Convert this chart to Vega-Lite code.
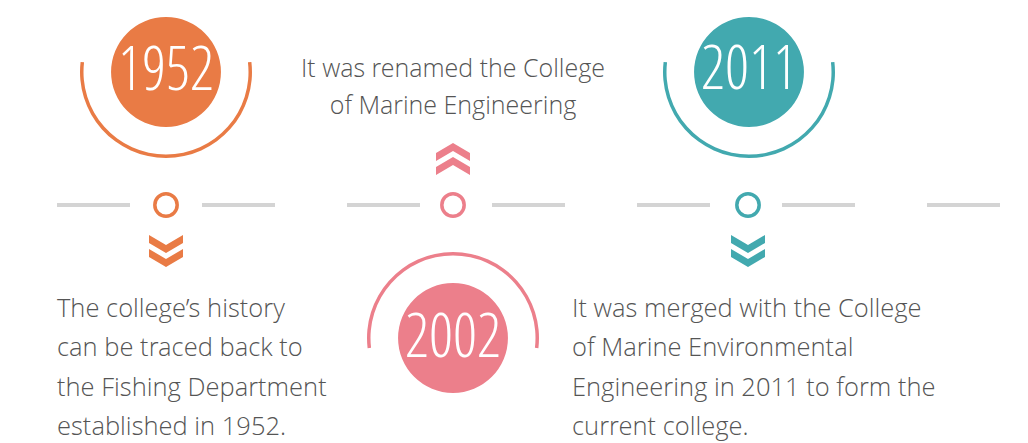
{
  "$schema": "https://vega.github.io/schema/vega-lite/v6.json",
  "width": 1028,
  "height": 443,
  "autosize": {"type": "none"},
  "padding": 0,
  "background": "white",
  "config": {"view": {"stroke": null}},
  "datasets": {
    "segments": [
      {"x": 57, "x2": 130, "y": 205}, {"x": 202, "x2": 275, "y": 205},
      {"x": 347, "x2": 420, "y": 205}, {"x": 492, "x2": 565, "y": 205},
      {"x": 637, "x2": 710, "y": 205}, {"x": 782, "x2": 855, "y": 205},
      {"x": 927, "x2": 1000, "y": 205}
    ],
    "events": [
      {"year": "1952", "x": 166, "cy": 72, "ty": 90, "ry": 205, "cx": 166, "chy": 251, "dir": "down"},
      {"year": "2002", "x": 453, "cy": 338, "ty": 357, "ry": 205, "cx": 453, "chy": 159, "dir": "up"},
      {"year": "2011", "x": 749, "cy": 72, "ty": 89, "ry": 205, "cx": 748, "chy": 251, "dir": "down"}
    ],
    "lines": [
      {"t": "It was renamed the College", "x": 453, "y": 77, "a": "center"},
      {"t": "of Marine Engineering", "x": 453, "y": 114, "a": "center"},
      {"t": "The college’s history", "x": 57, "y": 317, "a": "left"},
      {"t": "can be traced back to", "x": 57, "y": 356, "a": "left"},
      {"t": "the Fishing Department", "x": 57, "y": 396, "a": "left"},
      {"t": "established in 1952.", "x": 57, "y": 435, "a": "left"},
      {"t": "It was merged with the College", "x": 572, "y": 317, "a": "left"},
      {"t": "of Marine Environmental", "x": 572, "y": 356, "a": "left"},
      {"t": "Engineering in 2011 to form the", "x": 572, "y": 396, "a": "left"},
      {"t": "current college.", "x": 572, "y": 435, "a": "left"}
    ]
  },
  "encoding": {
    "x": {"field": "x", "type": "quantitative", "scale": {"domain": [0, 1028], "nice": false, "zero": false}, "axis": null},
    "y": {"field": "y", "type": "quantitative", "scale": {"domain": [0, 443], "nice": false, "zero": false, "reverse": true}, "axis": null}
  },
  "layer": [
    {
      "data": {"name": "segments"},
      "mark": {"type": "rule", "color": "#d4d4d4", "strokeWidth": 4},
      "encoding": {
        "x2": {"field": "x2"}
      }
    },
    {
      "data": {"name": "events"},
      "layer": [
        {
          "transform": [{"filter": "datum.dir == 'down'"}],
          "mark": {"type": "arc", "theta": 1.453, "theta2": 4.83, "radius": 86, "radius2": 82.5},
          "encoding": {
            "y": {"field": "cy", "type": "quantitative"},
            "color": {"field": "year", "type": "nominal", "scale": {"domain": ["1952", "2002", "2011"], "range": ["#E97B45", "#EC7F8B", "#42A9AF"]}, "legend": null}
          }
        },
        {
          "transform": [{"filter": "datum.dir == 'up'"}],
          "mark": {"type": "arc", "theta": -1.689, "theta2": 1.689, "radius": 86, "radius2": 82.5},
          "encoding": {
            "y": {"field": "cy", "type": "quantitative"},
            "color": {"field": "year", "type": "nominal", "legend": null}
          }
        },
        {
          "mark": {"type": "point", "shape": "circle", "filled": true, "opacity": 1, "size": 12076},
          "encoding": {
            "y": {"field": "cy", "type": "quantitative"},
            "color": {"field": "year", "type": "nominal", "legend": null}
          }
        },
        {
          "mark": {"type": "text", "font": "'Open Sans Condensed Light', 'Open Sans Condensed', 'Liberation Sans Narrow', sans-serif", "fontWeight": 300, "fontSize": 60, "color": "white", "align": "center", "baseline": "alphabetic"},
          "encoding": {
            "y": {"field": "ty", "type": "quantitative"},
            "text": {"field": "year"}
          }
        },
        {
          "mark": {"type": "point", "shape": "circle", "filled": false, "opacity": 1, "strokeWidth": 3.5, "size": 500},
          "encoding": {
            "x": {"field": "cx", "type": "quantitative"},
            "y": {"field": "ry", "type": "quantitative"},
            "color": {"field": "year", "type": "nominal", "legend": null}
          }
        },
        {
          "mark": {"type": "point", "filled": true, "opacity": 1, "strokeWidth": 0, "size": 1156},
          "encoding": {
            "x": {"field": "cx", "type": "quantitative"},
            "y": {"field": "chy", "type": "quantitative"},
            "shape": {"field": "dir", "type": "nominal", "legend": null, "scale": {"domain": ["down", "up"], "range": [
              "M-1,-0.94L0,-0.35L1,-0.94L1,-0.47L0,0.12L-1,-0.47Z M-1,-0.12L0,0.47L1,-0.12L1,0.35L0,0.94L-1,0.35Z",
              "M-1,0.94L0,0.35L1,0.94L1,0.47L0,-0.12L-1,0.47Z M-1,0.12L0,-0.47L1,0.12L1,-0.35L0,-0.94L-1,-0.35Z"
            ]}},
            "color": {"field": "year", "type": "nominal", "legend": null}
          }
        }
      ]
    },
    {
      "data": {"name": "lines"},
      "transform": [{"filter": "datum.a == 'center'"}],
      "mark": {"type": "text", "font": "'Open Sans Light', 'Open Sans'", "fontWeight": 300, "fontSize": 25, "color": "#555555", "baseline": "alphabetic", "align": "center"},
      "encoding": {
        "text": {"field": "t"}
      }
    },
    {
      "data": {"name": "lines"},
      "transform": [{"filter": "datum.a == 'left'"}],
      "mark": {"type": "text", "font": "'Open Sans Light', 'Open Sans'", "fontWeight": 300, "fontSize": 25.5, "color": "#555555", "baseline": "alphabetic", "align": "left"},
      "encoding": {
        "text": {"field": "t"}
      }
    }
  ]
}
